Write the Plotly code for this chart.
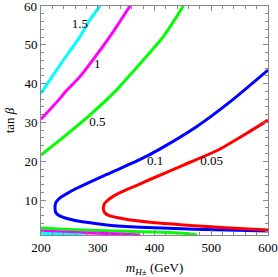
import plotly.graph_objects as go

# contour values (labels)
labels = ["1.5", "1", "0.5", "0.1", "0.05"]

# axis ticks
x_ticks = [200, 300, 400, 500, 600]
y_ticks = [10, 20, 30, 40, 50, 60]

# cyan (1.5)
cyan_up_m = [200, 204, 233.5, 268.7, 286, 304]
cyan_up_t = [37.5, 38.4, 44.8, 52.1, 56.4, 60]
cyan_lo_m = [200, 240, 275]
cyan_lo_t = [1.45, 1.2, 1.0]

# magenta (1)
mag_up_m = [200, 233.5, 245, 268.7, 298, 327.4, 356.8]
mag_up_t = [30.8, 36.2, 38.2, 41.8, 47.4, 53.4, 60]
mag_lo_m = [200, 250, 300, 340, 375]
mag_lo_t = [2.05, 1.7, 1.45, 1.25, 1.0]

# green (0.5)
grn_up_m = [200, 233.5, 286, 333.4, 356.8, 415.5, 450.8]
grn_up_t = [21.6, 25.5, 31.9, 38.4, 42.2, 52.1, 60]
grn_lo_m = [200, 250, 300, 350, 400, 450, 475]
grn_lo_t = [2.8, 2.4, 2.15, 1.95, 1.75, 1.45, 1.0]

# blue (0.1)
blue_m = [600, 533, 474, 410, 374, 316, 257, 245, 232, 226, 224.7, 226, 232, 253, 283, 316, 374, 471, 600]
blue_t = [43.5, 35.3, 28.9, 23.2, 20.4, 16.6, 12.6, 11.6, 10.4, 9.3, 7.9, 6.8, 6.0, 5.0, 4.2, 3.6, 3.0, 2.5, 2.0]

# red (0.05)
red_m = [600, 562.5, 515, 451, 392, 374, 345, 330, 318, 312, 309.8, 312, 320, 345, 392, 471, 500, 550, 600]
red_t = [30.6, 27.2, 23.1, 19.0, 15.3, 14.1, 12.3, 11.2, 10.0, 9.1, 7.9, 6.8, 6.0, 5.2, 4.3, 3.4, 3.1, 2.7, 2.3]

# label positions
lab_m = [268.7, 299.2, 299.2, 400.9, 500.7]
lab_t = [55.1, 44.8, 29.8, 19.9, 19.9]

serif = "Liberation Serif"
fig = go.Figure()

def add(x, y, color):
    fig.add_trace(go.Scatter(x=x, y=y, mode="lines", showlegend=False,
                             line=dict(color=color, width=3, shape="spline", smoothing=0.6),
                             hoverinfo="skip"))

add(grn_lo_m, grn_lo_t, "#00FF00")
add(mag_lo_m, mag_lo_t, "#FF00FF")
add(cyan_lo_m, cyan_lo_t, "#00FFFF")
add(cyan_up_m, cyan_up_t, "#00FFFF")
add(mag_up_m, mag_up_t, "#FF00FF")
add(grn_up_m, grn_up_t, "#00FF00")
add(blue_m, blue_t, "#0000FF")
add(red_m, red_t, "#FF0000")

fig.add_trace(go.Scatter(x=lab_m, y=lab_t, mode="text", text=labels, showlegend=False,
                         textfont=dict(family=serif, size=13, color="black"), hoverinfo="skip"))

axis_common = dict(showline=True, linecolor="#888888", linewidth=1, mirror="allticks",
                   ticks="inside", ticklen=5, tickcolor="#888888", tickwidth=1,
                   showgrid=False, zeroline=False,
                   tickfont=dict(family=serif, size=13, color="black"))

fig.update_xaxes(range=[200, 600], tickvals=x_ticks,
                 minor=dict(ticks="inside", ticklen=3, dtick=20, tick0=200, tickcolor="#888888", showgrid=False),
                 title=dict(text="<i>m</i><sub><i>H</i>±</sub> (GeV)", font=dict(family=serif, size=13, color="black"), standoff=10),
                 **axis_common)
# top tick label (60) drawn as an annotation so it is not dropped at the edge
fig.update_yaxes(range=[1, 60], tickvals=y_ticks, ticktext=[str(v) for v in y_ticks[:-1]] + [""],
                 minor=dict(ticks="inside", ticklen=3, dtick=2, tick0=0, tickcolor="#888888", showgrid=False),
                 title=dict(text="tan <i>β</i>", font=dict(family=serif, size=13, color="black"), standoff=6),
                 **axis_common)
fig.add_annotation(x=0, xref="paper", y=y_ticks[-1], yref="y", text=str(y_ticks[-1]),
                   showarrow=False, xanchor="right", yanchor="middle", xshift=-2,
                   font=dict(family=serif, size=13, color="black"))

fig.update_layout(width=278, height=277, margin=dict(l=41, r=10, t=6, b=42, autoexpand=False),
                  plot_bgcolor="white", paper_bgcolor="white")
fig.write_html("out.html", config={"displayModeBar": False},
               post_script="document.body.style.margin='0';")
